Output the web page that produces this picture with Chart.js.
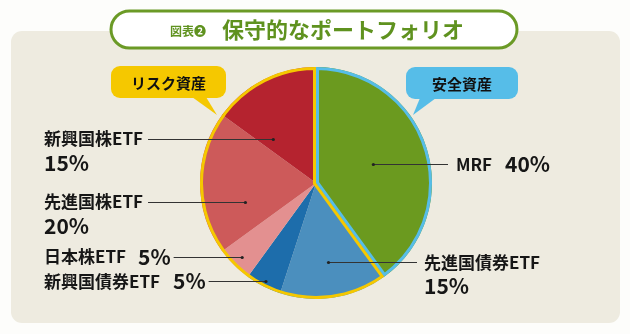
<!DOCTYPE html>
<html>
<head>
<meta charset="utf-8">
<script src="https://cdn.jsdelivr.net/npm/chart.js@4"></script>
<style>
  html, body { margin: 0; padding: 0; background: #fdfdfb; }
  #wrap { width: 630px; height: 334px; position: relative; }
</style>
</head>
<body>
<div id="wrap"><canvas id="pf"></canvas></div>
<script>
// ── データ ──────────────────────────────────────────────
const labels   = ['MRF', '先進国債券ETF', '新興国債券ETF', '日本株ETF', '先進国株ETF', '新興国株ETF']
const values   = [40, 15, 5, 5, 20, 15]
const colors   = ['#6b9a1f', '#4b8fbe', '#1d6dab', '#e39090', '#cd5a5a', '#b5232f']
// 安全資産 = MRF, リスク資産 = それ以外
const groups   = ['safe', 'risk', 'risk', 'risk', 'risk', 'risk']

const FONT = '"Noto Sans CJK JP", "Noto Sans", sans-serif'
const GROUP_COLOR = { safe: '#56bde8', risk: '#f5c800' }

// ラベル配置（スライス中心角からの位置、テキスト側）
const LABEL_LAYOUT = [
  { frac: .52, side: 'R', x: 456, inline: true, gap: 13 },
  { frac: .69, side: 'R', x: 424 },
  { frac: .95, side: 'L', x: 44, inline: true, gap: 13 },
  { frac: .90, side: 'L', x: 44, inline: true, gap: 12 },
  { frac: .63, ang: 255, side: 'L', x: 44 },
  { frac: .53, ang: 316, side: 'L', x: 44 }
]

function roundRect(ctx, x, y, w, h, r) {
  ctx.beginPath()
  ctx.moveTo(x + r, y)
  ctx.arcTo(x + w, y, x + w, y + h, r)
  ctx.arcTo(x + w, y + h, x, y + h, r)
  ctx.arcTo(x, y + h, x, y, r)
  ctx.arcTo(x, y, x + w, y, r)
  ctx.closePath()
}

function callout(ctx, x, y, w, h, fill, text, tail) {
  ctx.fillStyle = fill
  roundRect(ctx, x, y, w, h, 9)
  ctx.fill()
  ctx.beginPath()
  ctx.moveTo(tail[0], y + h - 1)
  ctx.lineTo(tail[1], y + h - 1)
  ctx.lineTo(tail[2], tail[3])
  ctx.closePath()
  ctx.fill()
  ctx.fillStyle = '#111'
  ctx.font = `bold 15px ${FONT}`
  ctx.textAlign = 'center'; ctx.textBaseline = 'middle'
  ctx.fillText(text, x + w / 2, y + h / 2 + 1)
}

// 背景・タイトル・吹き出し
const backdrop = {
  id: 'backdrop',
  beforeDraw(chart) {
    const { ctx } = chart
    ctx.save()
    ctx.fillStyle = '#fdfdfb'
    ctx.fillRect(0, 0, chart.width, chart.height)
    ctx.fillStyle = '#eeebe0'
    roundRect(ctx, 11, 31, 609, 292, 11)
    ctx.fill()

    // タイトル枠
    ctx.fillStyle = '#ffffff'
    ctx.strokeStyle = '#6b9a26'
    ctx.lineWidth = 3
    roundRect(ctx, 111, 11, 406, 37, 18.5)
    ctx.fill(); ctx.stroke()
    ctx.fillStyle = '#5f921f'
    ctx.textBaseline = 'middle'; ctx.textAlign = 'left'
    ctx.font = `bold 12px ${FONT}`
    ctx.fillText('図表❷', 170, 31)
    ctx.font = `bold 22px ${FONT}`
    ctx.fillText('保守的なポートフォリオ', 222, 30)

    callout(ctx, 111, 66, 115, 32, GROUP_COLOR.risk, 'リスク資産', [192, 206, 217, 115])
    callout(ctx, 406, 67, 112, 32, GROUP_COLOR.safe, '安全資産', [420, 436, 413, 115])
    ctx.restore()
  }
}

// グループごとの縁取り + 引き出し線ラベル
const decorations = {
  id: 'decorations',
  afterDatasetsDraw(chart) {
    const { ctx } = chart
    const arcs = chart.getDatasetMeta(0).data
    const cx = arcs[0].x, cy = arcs[0].y, R = arcs[0].outerRadius
    ctx.save()

    // 縁取り（各グループの扇形の内側に描く）
    ;['safe', 'risk'].forEach(g => {
      const idx = groups.map((v, i) => v === g ? i : -1).filter(i => i >= 0)
      const start = arcs[idx[0]].startAngle
      const end   = arcs[idx[idx.length - 1]].endAngle
      ctx.save()
      ctx.beginPath()
      ctx.moveTo(cx, cy)
      ctx.arc(cx, cy, R, start, end)
      ctx.closePath()
      ctx.clip()
      ctx.lineWidth = 6
      ctx.lineJoin = 'miter'
      ctx.strokeStyle = GROUP_COLOR[g]
      ctx.stroke()
      ctx.restore()
    })

    // ラベル
    arcs.forEach((a, i) => {
      const L = LABEL_LAYOUT[i]
      const mid = (a.startAngle + a.endAngle) / 2
      const ang = L.ang != null ? (L.ang - 90) * Math.PI / 180 : mid
      const dx = cx + Math.cos(ang) * R * L.frac
      const dy = cy + Math.sin(ang) * R * L.frac
      const name = labels[i], pct = values[i] + '%'
      const nameFont = `bold 17px ${FONT}`
      const pctFont  = `600 21px ${FONT}`

      ctx.textBaseline = 'middle'; ctx.textAlign = 'left'
      ctx.fillStyle = '#161616'
      ctx.font = nameFont
      const nameW = ctx.measureText(name).width
      let lineStart, lineEnd
      if (L.inline) {
        const gap = L.gap || 10
        ctx.font = nameFont
        ctx.fillText(name, L.x, dy)
        ctx.font = pctFont
        ctx.fillText(pct, L.x + nameW + gap, dy)
        const pW = ctx.measureText(pct).width
        if (L.side === 'L') { lineStart = L.x + nameW + gap + pW + 3; lineEnd = dx }
        else { lineStart = dx; lineEnd = L.x - 8 }
      } else {
        ctx.font = nameFont
        ctx.fillText(name, L.x, dy)
        ctx.font = pctFont
        ctx.fillText(pct, L.x, dy + 24)
        if (L.side === 'L') { lineStart = L.x + nameW + 5; lineEnd = dx }
        else { lineStart = dx; lineEnd = L.x - 7 }
      }
      ctx.strokeStyle = '#333'
      ctx.lineWidth = 1
      ctx.beginPath()
      ctx.moveTo(lineStart, Math.round(dy) + .5)
      ctx.lineTo(lineEnd, Math.round(dy) + .5)
      ctx.stroke()
      ctx.fillStyle = '#222'
      ctx.beginPath()
      ctx.arc(dx, Math.round(dy) + .5, 1.6, 0, Math.PI * 2)
      ctx.fill()
    })
    ctx.restore()
  }
}

new Chart(document.getElementById('pf'), {
  type: 'pie',
  plugins: [backdrop, decorations],
  data: {
    labels,
    datasets: [{ data: values, backgroundColor: colors, borderWidth: 0 }]
  },
  options: {
    responsive: true, maintainAspectRatio: false,
    animation: false,
    layout: { padding: { left: 200, right: 198, top: 67, bottom: 35 } },
    plugins: { legend: { display: false }, tooltip: { enabled: false } }
  }
})
</script>
</body>
</html>
